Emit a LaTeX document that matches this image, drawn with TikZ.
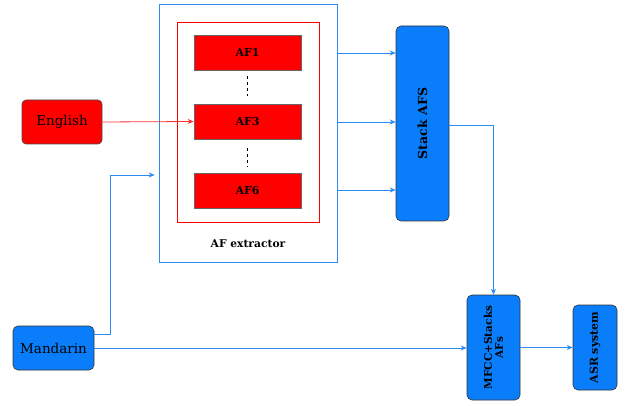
\documentclass[tikz,border=0pt]{standalone}
\usepackage{fontspec}
\setmainfont{DejaVu Serif}
\usetikzlibrary{arrows.meta}
\definecolor{bfill}{HTML}{0A7EFA}
\definecolor{bline}{HTML}{2A8CF5}
\definecolor{rline}{HTML}{FF3030}
\tikzset{
  rbox/.style={draw=black!70, fill=red, rounded corners=4pt, line width=0.6pt, minimum width=80pt, minimum height=44pt, font=\fontsize{13.5}{15}\selectfont},
  bbox/.style={draw=black!80, fill=bfill, rounded corners=5pt, line width=0.6pt},
  afbox/.style={draw=black!60, fill=red, line width=0.6pt, minimum width=107pt, minimum height=35pt, font=\bfseries\fontsize{11}{13}\selectfont},
  barrow/.style={draw=bline, line width=0.8pt, -{Stealth[length=6pt,width=5pt]}},
  bline/.style={draw=bline, line width=0.8pt},
}
\begin{document}
\begin{tikzpicture}[x=1pt,y=-1pt]
\useasboundingbox (0,0) rectangle (629,406);
% AF extractor
\node[draw=bline, line width=0.6pt, minimum width=178pt, minimum height=258pt] (ext) at (248,133) {};
\node[draw=red, line width=0.6pt, minimum width=142pt, minimum height=200pt] (inner) at (248,122) {};
\node[font=\bfseries\fontsize{10.7}{12}\selectfont] (extlbl) at (248,244) {AF extractor};
\node[afbox] (af1) at (247.5,52.5) {AF1};
\node[afbox] (af3) at (247.5,121.5) {AF3};
\node[afbox] (af6) at (247.5,190.5) {AF6};
\draw[dashed, line width=0.6pt] ([yshift=-6pt]af1.south) -- ([yshift=-26pt]af1.south);
\draw[dashed, line width=0.6pt] ([yshift=-9pt]af3.south) -- ([yshift=-28pt]af3.south);
% inputs
\node[rbox] (eng) at (62,122) {English};
\node[bbox, minimum width=81pt, minimum height=44pt, font=\fontsize{13.5}{15}\selectfont] (man) at (53.5,348) {Mandarin};
% stack
\node[bbox, minimum width=53pt, minimum height=195pt] (stack) at (422.5,123.5) {};
\node[rotate=90, font=\bfseries\fontsize{12.5}{14}\selectfont] (stacklbl) at (stack.center) {Stack AFS};
\node[bbox, minimum width=53pt, minimum height=105pt] (mfcc) at (493.5,347.5) {};
\node[rotate=90, align=center, font=\bfseries\fontsize{10.5}{11}\selectfont] (mfcclbl) at (mfcc.center) {MFCC+Stacks\\AFs};
\node[bbox, minimum width=44pt, minimum height=85pt] (asr) at (595,347.5) {};
\node[rotate=90, font=\bfseries\fontsize{11}{13}\selectfont] (asrlbl) at (asr.center) {ASR system};
% connectors
\draw[draw=rline, line width=0.8pt, -{Stealth[length=6pt,width=5pt]}] (eng.east) -- (af3.west);
\draw[barrow] (ext.east |- 0,53) -- (stack.west |- 0,53);
\draw[barrow] (ext.east |- 0,122) -- (stack.west |- 0,122);
\draw[barrow] (ext.east |- 0,190) -- (stack.west |- 0,190);
\draw[barrow] (stack.east |- 0,125) -| (mfcc.north);
\draw[barrow] (man.east |- 0,334) -| (110,175) -- ([xshift=-4pt]ext.west |- 0,175);
\draw[barrow] (man.east) -- (mfcc.west |- man.east);
\draw[barrow] (mfcc.east) -- (asr.west);
\end{tikzpicture}
\end{document}
